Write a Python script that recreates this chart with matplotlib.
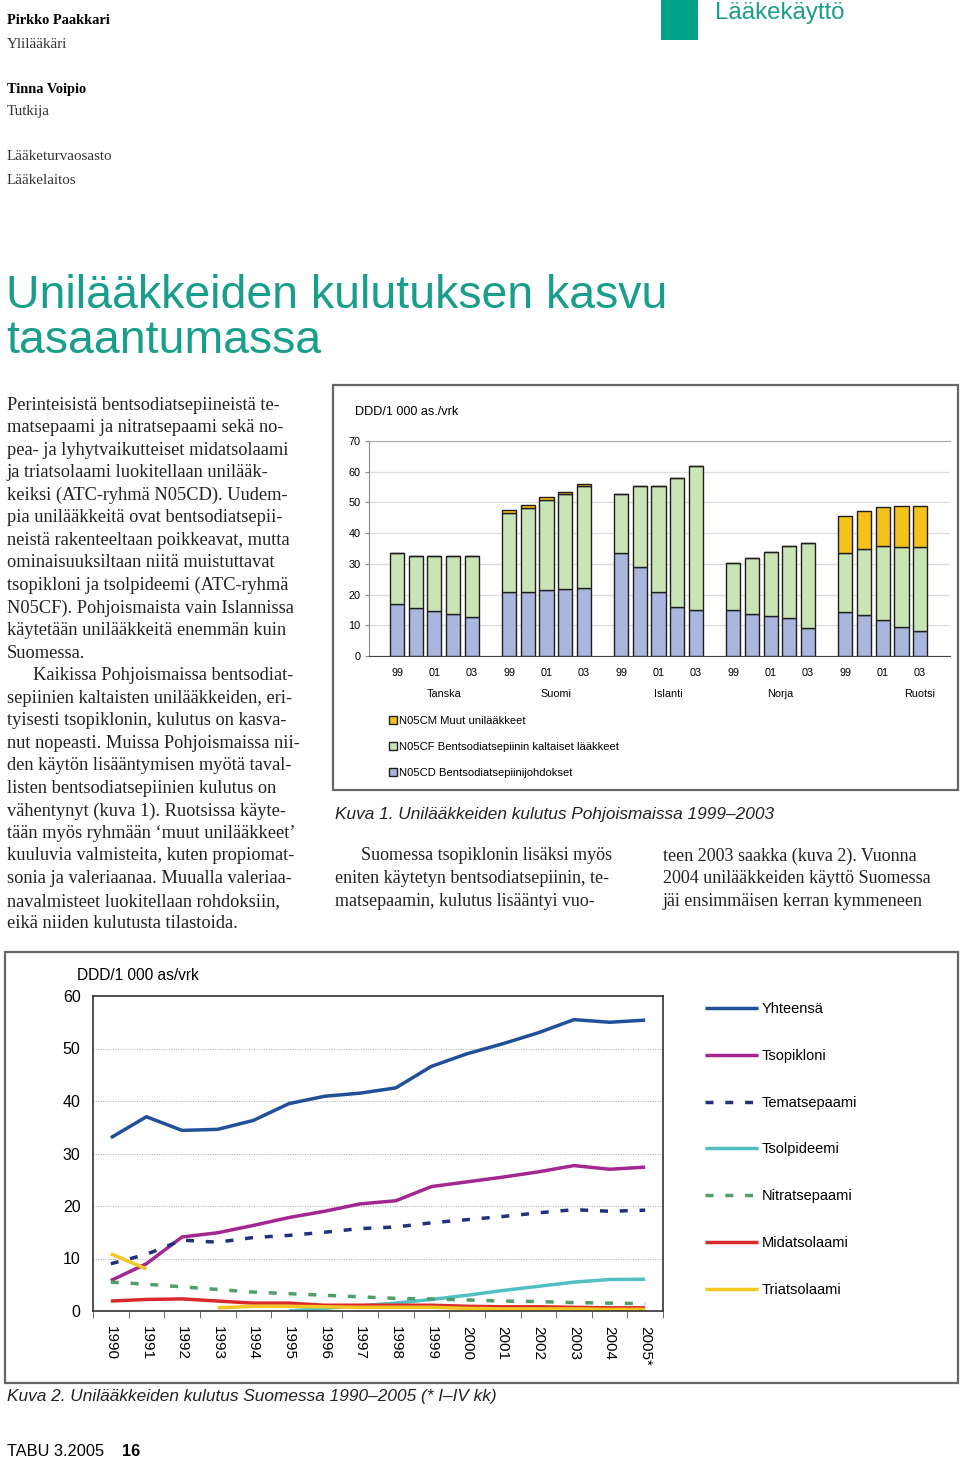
import numpy as np
import matplotlib
matplotlib.use('Agg')
import matplotlib.pyplot as plt
from matplotlib.patches import Rectangle

W, H = 960, 1458

# --- data: kuva 1 (DDD/1 000 as./vrk), years 1999-2003 per country
countries = ['Tanska', 'Suomi', 'Islanti', 'Norja', 'Ruotsi']
year_ticks = ['99', '', '01', '', '03']
n05cd = [[17.0, 15.5, 14.7, 13.7, 12.6],
         [20.7, 21.0, 21.4, 21.8, 22.2],
         [33.4, 28.9, 20.7, 16.1, 14.9],
         [15.1, 13.7, 13.1, 12.3, 9.2],
         [14.4, 13.3, 11.6, 9.5, 8.3]]
n05cf = [[16.4, 16.9, 17.7, 18.7, 20.1],
         [25.9, 27.2, 29.4, 30.9, 33.1],
         [19.4, 26.4, 34.6, 41.9, 46.8],
         [15.2, 18.1, 20.8, 23.5, 27.7],
         [19.1, 21.6, 24.2, 26.0, 27.2]]
n05cm = [[0, 0, 0, 0, 0],
         [0.8, 0.9, 0.9, 0.8, 0.8],
         [0, 0, 0, 0, 0],
         [0, 0, 0, 0, 0],
         [12.0, 12.3, 12.6, 13.5, 13.5]]

# --- data: kuva 2, Suomi 1990-2005
years = ['1990', '1991', '1992', '1993', '1994', '1995', '1996', '1997',
         '1998', '1999', '2000', '2001', '2002', '2003', '2004', '2005*']
yhteensa = [33.0, 37.0, 34.4, 34.6, 36.3, 39.5, 40.9, 41.5,
            42.5, 46.6, 49.0, 50.9, 53.0, 55.5, 55.0, 55.4]
tsopikloni = [5.8, 9.0, 14.1, 14.9, 16.3, 17.8, 19.0, 20.4,
              21.0, 23.7, 24.6, 25.5, 26.5, 27.7, 27.0, 27.4]
tematsepaami = [9.0, 10.8, 13.5, 13.1, 14.0, 14.4, 15.0, 15.7,
                16.0, 16.8, 17.4, 18.0, 18.7, 19.3, 19.0, 19.2]
tsolpideemi = [np.nan, np.nan, np.nan, np.nan, np.nan, 0.0, 0.5, 1.0,
               1.5, 2.2, 3.0, 3.9, 4.7, 5.5, 6.0, 6.05]
nitratsepaami = [5.5, 5.1, 4.6, 4.1, 3.6, 3.3, 3.0, 2.7,
                 2.4, 2.3, 2.1, 1.9, 1.8, 1.6, 1.5, 1.4]
midatsolaami = [1.9, 2.2, 2.3, 1.9, 1.5, 1.5, 1.1, 1.1,
                1.1, 1.1, 0.9, 0.8, 0.8, 0.7, 0.6, 0.6]
triatsolaami = [10.9, 8.0, np.nan, 0.6, 0.9, 0.9, 0.8, 0.7,
                0.7, 0.7, 0.5, 0.4, 0.4, 0.4, 0.3, 0.3]

teal = '#1a9e8c'
serif = 'Liberation Serif'
sans = 'Liberation Sans'
body_size = 13.2

fig = plt.figure(figsize=(W / 100, H / 100), dpi=100)


def fx(x):
    return x / W


def fy(y):
    return 1 - y / H


def add_ax(x0, y0, x1, y1):
    return fig.add_axes([x0 / W, 1 - y1 / H, (x1 - x0) / W, (y1 - y0) / H])


def box(x0, y0, x1, y1, color='#666666', lw=1.6):
    fig.add_artist(Rectangle((fx(x0), fy(y1)), (x1 - x0) / W, (y1 - y0) / H,
                             transform=fig.transFigure, fill=False,
                             edgecolor=color, linewidth=lw))


# --- header
fig.text(fx(7), fy(21), 'Pirkko Paakkari', family=serif, weight='bold', fontsize=10.4, va='center')
fig.text(fx(7), fy(44), 'Ylilääkäri', family=serif, fontsize=10.8, va='center', color='#333333')
fig.text(fx(7), fy(89), 'Tinna Voipio', family=serif, weight='bold', fontsize=10.4, va='center')
fig.text(fx(7), fy(112), 'Tutkija', family=serif, fontsize=10.8, va='center', color='#333333')
fig.text(fx(7), fy(157), 'Lääketurvaosasto', family=serif, fontsize=10.8, va='center', color='#333333')
fig.text(fx(7), fy(180), 'Lääkelaitos', family=serif, fontsize=10.8, va='center', color='#333333')
fig.add_artist(Rectangle((fx(661), fy(40)), 37 / W, 40 / H, transform=fig.transFigure,
                         facecolor='#00a38a', edgecolor='none'))
fig.text(fx(715), fy(13), 'Lääkekäyttö', family=sans, fontsize=17.3, va='center', color=teal)

fig.text(fx(6), fy(296), 'Unilääkkeiden kulutuksen kasvu', family=sans, fontsize=33.4,
         va='center', color=teal)
fig.text(fx(6), fy(341), 'tasaantumassa', family=sans, fontsize=33.4, va='center', color=teal)

# --- body text, left column
left_lines = [
    'Perinteisistä bentsodiatsepiineistä te-',
    'matsepaami ja nitratsepaami sekä no-',
    'pea- ja lyhytvaikutteiset midatsolaami',
    'ja triatsolaami luokitellaan unilääk-',
    'keiksi (ATC-ryhmä N05CD). Uudem-',
    'pia unilääkkeitä ovat bentsodiatsepii-',
    'neistä rakenteeltaan poikkeavat, mutta',
    'ominaisuuksiltaan niitä muistuttavat',
    'tsopikloni ja tsolpideemi (ATC-ryhmä',
    'N05CF). Pohjoismaista vain Islannissa',
    'käytetään unilääkkeitä enemmän kuin',
    'Suomessa.',
    'Kaikissa Pohjoismaissa bentsodiat-',
    'sepiinien kaltaisten unilääkkeiden, eri-',
    'tyisesti tsopiklonin, kulutus on kasva-',
    'nut nopeasti. Muissa Pohjoismaissa nii-',
    'den käytön lisääntymisen myötä taval-',
    'listen bentsodiatsepiinien kulutus on',
    'vähentynyt (kuva 1). Ruotsissa käyte-',
    'tään myös ryhmään ‘muut unilääkkeet’',
    'kuuluvia valmisteita, kuten propiomat-',
    'sonia ja valeriaanaa. Muualla valeriaa-',
    'navalmisteet luokitellaan rohdoksiin,',
    'eikä niiden kulutusta tilastoida.',
]
for i, s in enumerate(left_lines):
    x = 33 if i == 12 else 7
    fig.text(fx(x), fy(405 + i * 22.55), s, family=serif, fontsize=body_size, va='center', color='#222222')

mid_left = ['Suomessa tsopiklonin lisäksi myös',
            'eniten käytetyn bentsodiatsepiinin, te-',
            'matsepaamin, kulutus lisääntyi vuo-']
mid_right = ['teen 2003 saakka (kuva 2). Vuonna',
             '2004 unilääkkeiden käyttö Suomessa',
             'jäi ensimmäisen kerran kymmeneen']
for i, s in enumerate(mid_left):
    x = 361 if i == 0 else 335
    fig.text(fx(x), fy(856 + i * 22.55), s, family=serif, fontsize=13.0, va='center', color='#222222')
for i, s in enumerate(mid_right):
    fig.text(fx(663), fy(856 + i * 22.55), s, family=serif, fontsize=13.0, va='center', color='#222222')

fig.text(fx(335), fy(814), 'Kuva 1. Unilääkkeiden kulutus Pohjoismaissa 1999–2003',
         family=sans, style='italic', fontsize=12.4, va='center', color='#222222')
fig.text(fx(7), fy(1397), 'Kuva 2. Unilääkkeiden kulutus Suomessa 1990–2005 (* I–IV kk)',
         family=sans, style='italic', fontsize=12.4, va='center', color='#222222')
fig.text(fx(7), fy(1451), 'TABU 3.2005', family=sans, fontsize=11.8, va='center')
fig.text(fx(122), fy(1451), '16', family=sans, weight='bold', fontsize=11.8, va='center')

# --- kuva 1: stacked bars
box(333, 385, 958, 790)
ax1 = add_ax(369, 441, 950, 656)
slot = 6
pos = [g * slot + j for g in range(len(countries)) for j in range(5)]
blue = [v for row in n05cd for v in row]
green = [v for row in n05cf for v in row]
yellow = [v for row in n05cm for v in row]
bw = 0.76
edge = dict(edgecolor='#1e1e1e', linewidth=1.0)
b1 = ax1.bar(pos, blue, bw, color='#a9b7de', zorder=3, **edge)
b2 = ax1.bar(pos, green, bw, bottom=blue, color='#c9e5b5', zorder=3, **edge)
bottom3 = [a + b for a, b in zip(blue, green)]
b3 = ax1.bar(pos, yellow, bw, bottom=bottom3, color='#f5c21b', zorder=3, **edge)
ax1.set_xlim(-1.5, 29.6)
ax1.set_ylim(0, 70)
ax1.set_yticks(range(0, 71, 10))
ax1.tick_params(axis='y', labelsize=7.8, length=3, color='#888888', pad=3)
ax1.set_xticks(pos)
ax1.set_xticklabels(year_ticks * len(countries), fontsize=7.8)
ax1.tick_params(axis='x', length=0, pad=9)
for lab in ax1.get_xticklabels() + ax1.get_yticklabels():
    lab.set_family(sans)
ax1.grid(axis='y', color='#dddddd', linewidth=0.9, zorder=0)
ax1.spines['right'].set_visible(False)
ax1.spines['top'].set_color('#aaaaaa')
ax1.spines['left'].set_color('#888888')
ax1.spines['bottom'].set_color('#444444')
for g, name in enumerate(countries):
    xc = g * slot + (2.5 if g < 4 else 4)
    ax1.text(xc, -12.3, name, ha='center', va='center', fontsize=7.8, family=sans)
fig.text(fx(355), fy(412), 'DDD/1 000 as./vrk', family=sans, fontsize=9.1, va='center')
ax1.legend([b3, b2, b1],
           ['N05CM Muut unilääkkeet', 'N05CF Bentsodiatsepiinin kaltaiset lääkkeet',
            'N05CD Bentsodiatsepiinijohdokset'],
           loc='upper left', bbox_to_anchor=(fx(389), fy(716)), bbox_transform=fig.transFigure,
           frameon=False, handlelength=0.72, handleheight=0.72,
           handletextpad=0.15, labelspacing=1.42, borderpad=0, borderaxespad=0,
           prop={'family': sans, 'size': 8.1})

# --- kuva 2: line chart
box(5, 952, 958, 1383)
ax2 = add_ax(93, 996, 663, 1311)
x = np.arange(len(years))
lw = 2.5
series = [
    (yhteensa, 'Yhteensä', '#214f98', '-'),
    (tsopikloni, 'Tsopikloni', '#a2278e', '-'),
    (tematsepaami, 'Tematsepaami', '#24307c', (0, (2.3, 3.4))),
    (tsolpideemi, 'Tsolpideemi', '#52c0c2', '-'),
    (nitratsepaami, 'Nitratsepaami', '#4f9e6c', (0, (2.3, 3.4))),
    (midatsolaami, 'Midatsolaami', '#d82a2c', '-'),
    (triatsolaami, 'Triatsolaami', '#f4c622', '-'),
]
for vals, name, col, ls in series:
    ax2.plot(x, vals, color=col, linestyle=ls, linewidth=lw, label=name,
             solid_capstyle='butt', dash_capstyle='butt')
ax2.set_xlim(-0.5, 15.5)
ax2.set_ylim(0, 60)
ax2.set_yticks(range(0, 61, 10))
ax2.set_xticks(x)
ax2.set_xticklabels(years, rotation=270, fontsize=11, family=sans, va='top', ha='center')
ax2.set_xticks(np.arange(-0.5, 15.6, 1), minor=True)
ax2.tick_params(axis='x', which='major', length=0, pad=11)
ax2.tick_params(axis='x', which='minor', length=5, color='#555555')
ax2.tick_params(axis='y', length=0, pad=9, labelsize=11.5)
for lab in ax2.get_yticklabels():
    lab.set_family(sans)
ax2.grid(axis='y', linestyle=(0, (1, 1.5)), color='#aaaaaa', linewidth=0.7)
for sp in ax2.spines.values():
    sp.set_color('#333333')
    sp.set_linewidth(1.2)
fig.text(fx(77), fy(975), 'DDD/1 000 as/vrk', family=sans, fontsize=11.2, va='center')
ax2.legend(loc='upper left', bbox_to_anchor=(fx(705), fy(1002)), bbox_transform=fig.transFigure,
           frameon=False, handlelength=3.6, handletextpad=0.3, labelspacing=2.25,
           borderpad=0, borderaxespad=0, prop={'family': sans, 'size': 10.5})

fig.savefig('out.png', dpi=100)
